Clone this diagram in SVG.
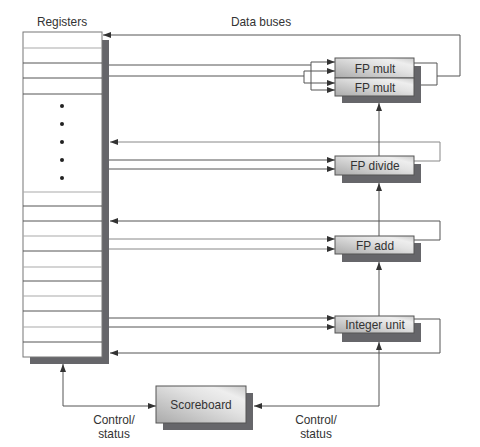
<svg xmlns="http://www.w3.org/2000/svg" width="480" height="447" viewBox="0 0 480 447">
<style>
text{font-family:"Liberation Sans",Arial,sans-serif;font-size:11.9px;fill:#333}
.c{text-anchor:middle}
.ln{fill:none;stroke:#555;stroke-width:1}
.ar{fill:none;stroke:#555;stroke-width:1;marker-end:url(#ah)}
.box{fill:url(#g);stroke:#555;stroke-width:1}
.sh{fill:#66666a}
.rl{stroke:#555;stroke-width:1}
.rg{stroke:#aaa;stroke-width:1.2}
</style>
<defs>
<linearGradient id="g" x1="0" y1="1" x2="1" y2="0">
<stop offset="0" stop-color="#aaaaaa"/>
<stop offset="0.6" stop-color="#e2e2e2"/>
<stop offset="0.8" stop-color="#eeeeee"/>
<stop offset="1" stop-color="#cacaca"/>
</linearGradient>
<marker id="ah" markerUnits="userSpaceOnUse" markerWidth="8" markerHeight="6" viewBox="0 0 8 6" refX="8" refY="3" orient="auto-start-reverse">
<path d="M0,0 L8,3 L0,6 z" fill="#333"/>
</marker>
</defs>

<text x="62" y="26" class="c">Registers</text>
<text x="261" y="26" class="c">Data buses</text>

<g id="registers">
<rect x="30" y="40" width="79" height="324" class="sh"/>
<rect x="23" y="32" width="79" height="325" fill="#fff" stroke="#777"/>
<line x1="23" y1="48" x2="102" y2="48" class="rg"/>
<line x1="23" y1="63" x2="102" y2="63" class="rl"/>
<line x1="23" y1="78" x2="102" y2="78" class="rl"/>
<line x1="23" y1="94" x2="102" y2="94" class="rl"/>
<line x1="23" y1="192" x2="102" y2="192" class="rg"/>
<line x1="23" y1="206" x2="102" y2="206" class="rl"/>
<line x1="23" y1="221" x2="102" y2="221" class="rl"/>
<line x1="23" y1="236" x2="102" y2="236" class="rg"/>
<line x1="23" y1="251" x2="102" y2="251" class="rl"/>
<line x1="23" y1="267" x2="102" y2="267" class="rg"/>
<line x1="23" y1="281" x2="102" y2="281" class="rl"/>
<line x1="23" y1="296" x2="102" y2="296" class="rg"/>
<line x1="23" y1="311" x2="102" y2="311" class="rl"/>
<line x1="23" y1="327" x2="102" y2="327" class="rg"/>
<line x1="23" y1="342" x2="102" y2="342" class="rl"/>
<g fill="#222">
<circle cx="62" cy="106" r="2"/>
<circle cx="62" cy="124" r="2"/>
<circle cx="62" cy="142" r="2"/>
<circle cx="62" cy="160" r="2"/>
<circle cx="62" cy="178" r="2"/>
</g>
</g>

<g id="connectors">
<path d="M109,65 H311" class="ln"/>
<path d="M311,62 V90" class="ln"/>
<path d="M311,62 H335" class="ar"/>
<path d="M311,90 H335" class="ar"/>
<path d="M109,76 H304" class="ln"/>
<path d="M304,71 V83" class="ln"/>
<path d="M304,71 H335" class="ar"/>
<path d="M304,83 H335" class="ar"/>
<path d="M414,63 H437 V85 H414" class="ln"/>
<path d="M437,76 H460 V35 H103" class="ar"/>
<path d="M109,160 H335" class="ar"/>
<path d="M109,169 H335" class="ar"/>
<path d="M414,161 H440 V142 H110" class="ar" style="stroke:#888"/>
<path d="M109,239 H335" class="ar" style="stroke:#888"/>
<path d="M109,249 H335" class="ar" style="stroke:#888"/>
<path d="M414,240 H440 V221 H110" class="ar"/>
<path d="M109,318 H335" class="ar"/>
<path d="M109,327 H335" class="ar"/>
<path d="M414,319 H440 V353 H110" class="ar"/>
<path d="M379,156 V103" class="ar"/>
<path d="M379,236 V183" class="ar"/>
<path d="M379,316 V262" class="ar"/>
<path d="M156,406 H63 V364" class="ln" style="marker-start:url(#ah);marker-end:url(#ah)"/>
<path d="M254,406 H379 V342" class="ln" style="marker-start:url(#ah);marker-end:url(#ah)"/>
</g>

<g id="fpmult">
<rect x="342" y="66" width="79" height="37" class="sh"/>
<rect x="335" y="58" width="79" height="20" class="box"/>
<rect x="335" y="78" width="79" height="18" class="box"/>
<text x="375" y="72.5" class="c">FP mult</text>
<text x="375" y="91.5" class="c">FP mult</text>
</g>

<g id="fpdivide">
<rect x="342" y="164" width="79" height="19" class="sh"/>
<rect x="335" y="156" width="79" height="19" class="box"/>
<text x="375" y="170" class="c">FP divide</text>
</g>

<g id="fpadd">
<rect x="342" y="243" width="79" height="19" class="sh"/>
<rect x="335" y="236" width="79" height="18" class="box"/>
<text x="375" y="249.5" class="c">FP add</text>
</g>

<g id="intunit">
<rect x="342" y="323" width="79" height="19" class="sh"/>
<rect x="335" y="316" width="79" height="17" class="box"/>
<text x="375" y="329" class="c">Integer unit</text>
</g>

<g id="scoreboard">
<rect x="163" y="393" width="90" height="37" class="sh"/>
<rect x="156" y="386" width="90" height="37" class="box"/>
<text x="201" y="409" class="c">Scoreboard</text>
</g>

<text x="114" y="424" class="c">Control/</text>
<text x="114" y="438" class="c">status</text>
<text x="316" y="424" class="c">Control/</text>
<text x="316" y="438" class="c">status</text>
</svg>
